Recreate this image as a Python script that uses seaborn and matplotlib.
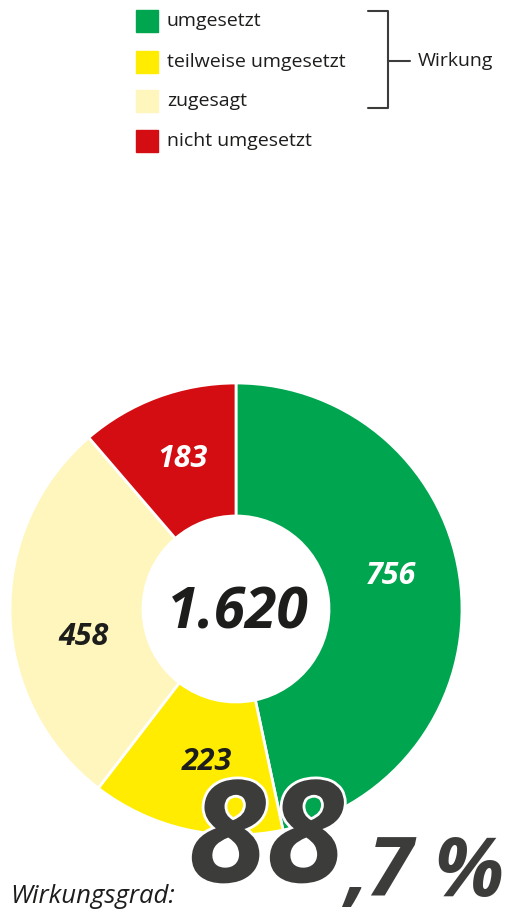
import matplotlib
matplotlib.use("Agg")
import matplotlib.pyplot as plt
import matplotlib.patheffects as pe
import seaborn as sns

# data
categories = ["umgesetzt", "teilweise umgesetzt", "zugesagt", "nicht umgesetzt"]
values = [756, 223, 458, 183]
colours = ["#00a54f", "#ffec00", "#fff6bd", "#d40d12"]
label_colours = ["white", "#1d1d1b", "#1d1d1b", "white"]
total_label = "1.620"
grad_big = "88"
grad_small = ",7 %"

# where the value labels sit inside the ring (pie units)
label_pos = [(0.686, 0.146), (-0.128, -0.677), (-0.673, -0.124), (-0.235, 0.664)]

sns.set_theme(style="white")
plt.rcParams['font.family'] = ['Open Sans', 'DejaVu Sans']

W, H = 508, 917
fig = plt.figure(figsize=(W / 100, H / 100), dpi=100)
fig.patch.set_facecolor("white")

def fx(px):
    return px / W

def fy(py):
    return 1 - py / H

# donut
cx, cy, r = 236, 609, 226
ax = fig.add_axes([fx(cx - r), fy(cy + r), 2 * r / W, 2 * r / H])
wedges, texts = ax.pie(values, colors=colours, startangle=90, counterclock=False,
                       radius=1, labels=[str(v) for v in values], labeldistance=0.69,
                       wedgeprops=dict(width=1 - 93.0 / r, edgecolor="white", linewidth=2),
                       textprops=dict(fontsize=22, fontweight="bold", fontstyle="italic"))
for t, c, p in zip(texts, label_colours, label_pos):
    t.set_color(c)
    t.set_position(p)
    t.set_ha("center")
    t.set_va("center")
ax.set_xlim(-1, 1)
ax.set_ylim(-1, 1)
ax.set_aspect("equal")
ax.axis("off")
ax.text(0.01, -0.02, total_label, ha="center", va="center", fontsize=41,
        fontweight="bold", fontstyle="italic", color="#1d1d1b")

# legend
rows_y = [21, 62, 101, 141]
for name, col, yy in zip(categories, colours, rows_y):
    fig.patches.append(plt.Rectangle((fx(136), fy(yy + 11)), 22 / W, 22 / H,
                                     transform=fig.transFigure, color=col))
    fig.text(fx(167), fy(yy), name, ha="left", va="center", fontsize=14, color="#1d1d1b")

# bracket
bc = "#3c3c3b"
fig.add_artist(plt.Line2D([fx(368), fx(388), fx(388), fx(368)],
                          [fy(11), fy(11), fy(108), fy(108)], color=bc, lw=1.5))
fig.add_artist(plt.Line2D([fx(388), fx(410)], [fy(61), fy(61)], color=bc, lw=1.5))
fig.text(fx(418), fy(61), "Wirkung", ha="left", va="center", fontsize=14, color="#1d1d1b")

# Wirkungsgrad
fig.text(fx(10), fy(903), "Wirkungsgrad:", ha="left", va="baseline", fontsize=18.5,
         fontstyle="italic", color="#1d1d1b")
outline = [pe.withStroke(linewidth=4, foreground="white")]
fig.text(fx(188), fy(916), grad_big, ha="left", va="bottom", fontsize=102,
         fontweight="bold", fontstyle="italic", color="#3c3c3b", path_effects=outline)
fig.text(fx(345), fy(916), grad_small, ha="left", va="bottom", fontsize=59,
         fontweight="bold", fontstyle="italic", color="#3c3c3b")

fig.savefig("out.png", dpi=100, facecolor="white")
